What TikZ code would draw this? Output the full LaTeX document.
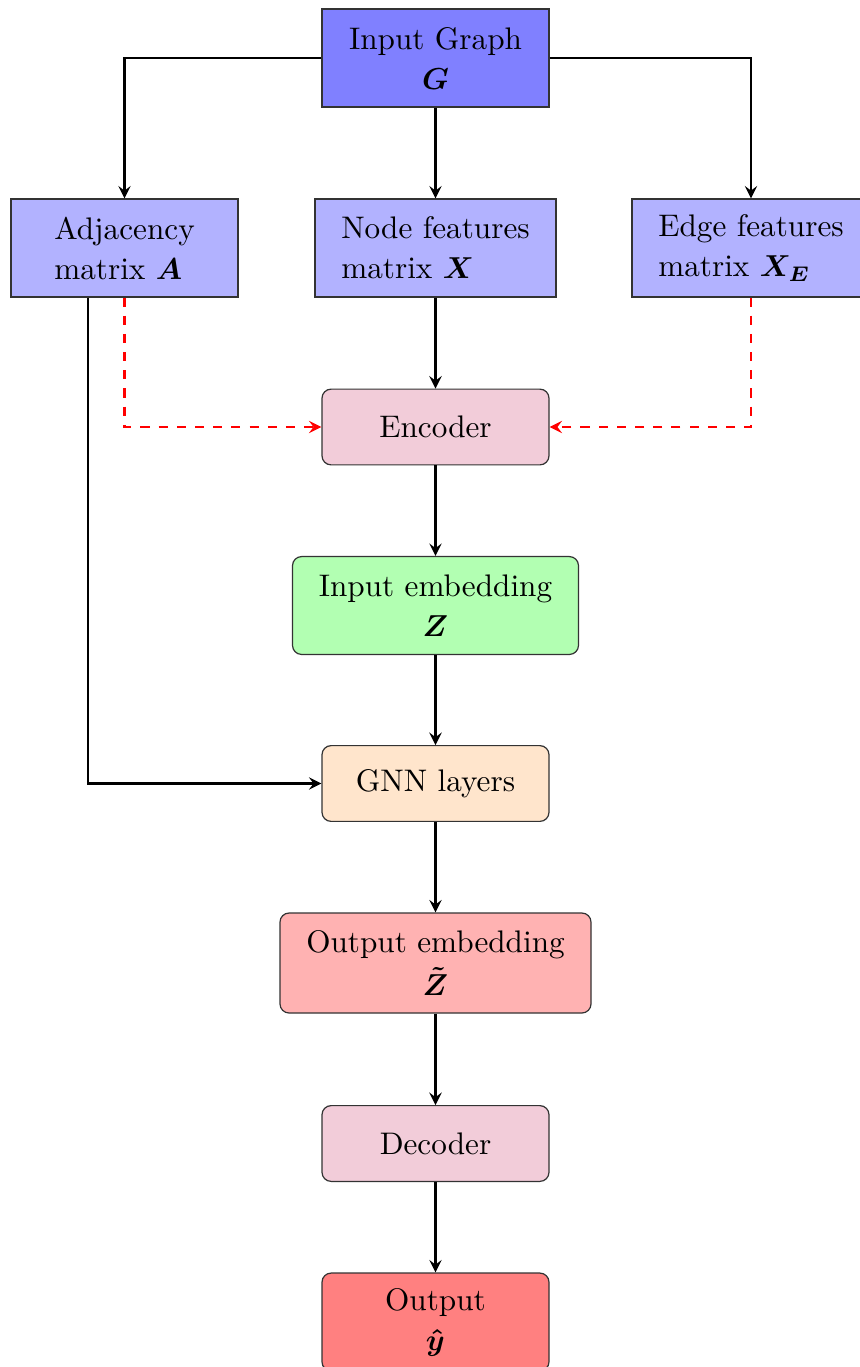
\documentclass[tikz,border=0pt]{standalone}
\usepackage{amsmath,amssymb,bm}
\usetikzlibrary{arrows.meta, positioning}

\begin{document}
\begin{tikzpicture}[x=0.33pt, y=-0.33pt, >=stealth, thick,
  databox/.style 2 args={
    draw=black!80, thin, fill=#1, minimum width=#2*0.33pt, minimum height=32.3pt,
    align=left, inner sep=2pt, font=\fontsize{10.3pt}{13.2pt}\selectfont
  },
  stagebox/.style 2 args={
    draw=black!80, thin, fill=#1, rounded corners=3pt, minimum width=#2*0.33pt,
    minimum height=25pt, align=center, inner sep=2pt,
    font=\fontsize{10.3pt}{13.2pt}\selectfont
  },
  flow/.style={->, black, thick},
  aux/.style={->, red, thick, dashed}]

% Frame
\useasboundingbox (0,0) rectangle (860,1367);

% --- Input graph and its matrices ---
\node[databox={blue!50}{227}, align=center] (graph) at (435.5,58) {Input Graph\\ $\bm{G}$};
\node[databox={blue!30}{227}] (adj) at (124.5,248) {Adjacency\\ matrix $\bm{A}$};
\node[databox={blue!30}{241}] (feat) at (435.5,248) {Node features\\ matrix $\bm{X}$};
\node[databox={blue!30}{238}] (edge) at (751,248) {Edge features\\ matrix $\bm{X_E}$};

% --- Pipeline ---
\node[stagebox={purple!20}{227}] (enc) at (435.5,427) {Encoder};
\node[stagebox={green!30}{286}, minimum height=32.3pt] (zin) at (435.5,605.5) {Input embedding\\ $\bm{Z}$};
\node[stagebox={orange!20}{227}] (gnn) at (435.5,783.5) {GNN layers};
\node[stagebox={red!30}{311}, minimum height=33pt] (zout) at (435.5,963) {Output embedding\\[1pt] $\bm{\tilde{Z}}$};
\node[stagebox={purple!20}{227}] (dec) at (435.5,1143.5) {Decoder};
\node[stagebox={red!50}{227}, minimum height=32.3pt] (out) at (435.5,1322) {Output\\ $\bm{\hat{y}}$};

% Split of the graph
\draw[flow] (graph.west) -| (adj.north);
\draw[flow] (graph.east) -| (edge.north);
\draw[flow] (graph) -- (feat);

% Extra inputs of the encoder
\draw[aux] (adj.south) |- (enc.west);
\draw[aux] (edge.south) |- (enc.east);

% Adjacency goes straight to the GNN
\draw[flow] ([xshift=-36.5*0.33pt]adj.south) |- (gnn.west);

% Main chain
\draw[flow] (feat) -- (enc);
\draw[flow] (enc) -- (zin);
\draw[flow] (zin) -- (gnn);
\draw[flow] (gnn) -- (zout);
\draw[flow] (zout) -- (dec);
\draw[flow] (dec) -- (out);

\end{tikzpicture}
\end{document}
